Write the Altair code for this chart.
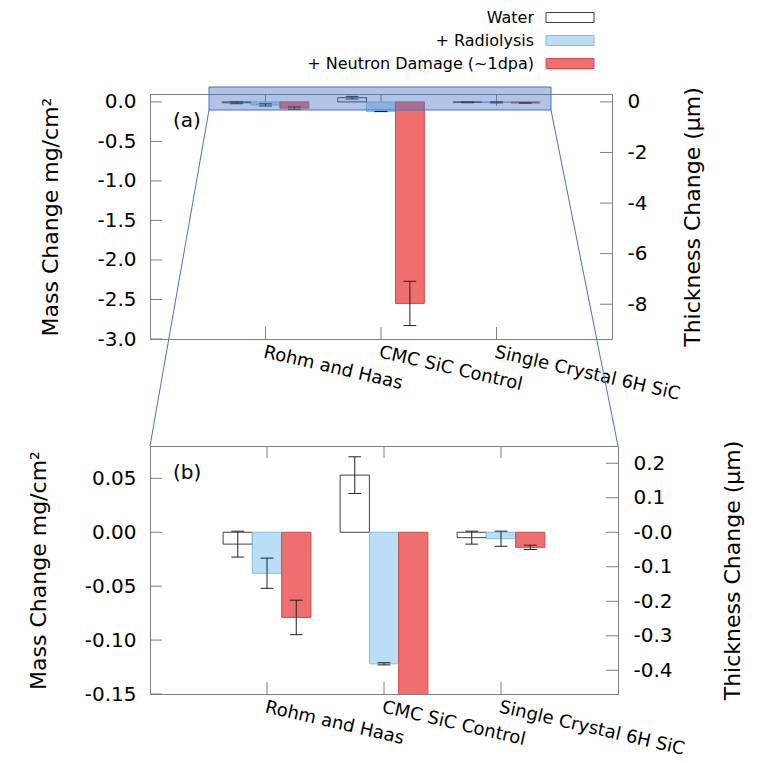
import json
import altair as alt
import pandas as pd

# ---------------- data ----------------
categories = ["Rohm and Haas", "CMC SiC Control", "Single Crystal 6H SiC"]
series = ["Water", "+ Radiolysis", "+ Neutron Damage (~1dpa)"]
water = [-0.011, 0.053, -0.005]
water_err = [0.012, 0.017, 0.006]
radiolysis = [-0.038, -0.122, -0.006]
radiolysis_err = [0.014, 0.001, 0.007]
neutron = [-0.079, -2.55, -0.014]
neutron_err = [0.016, 0.28, 0.002]
um_per_mg_cm2 = 3.125  # thickness (um) per mass change (mg/cm^2)

mass_ticks_a = [0.0, -0.5, -1.0, -1.5, -2.0, -2.5, -3.0]
thick_ticks_a = [0, -2, -4, -6, -8]
mass_ticks_b = [0.05, 0.0, -0.05, -0.10, -0.15]
thick_ticks_b = [0.2, 0.1, 0.0, -0.1, -0.2, -0.3, -0.4]
mass_domain_a = [-3.0, 0.1]
mass_domain_b = [-0.15, 0.08]

# ---------------- style ----------------
FONT = "DejaVu Sans"
FRAME = "#808080"
fills = ["#ffffff", "#b9def5", "#ef6e6e"]
strokes = ["#404040", "#7fbfea", "#d84848"]
ZOOM = "#4472c4"
BAR_W = 0.25
CAP_HALF = 0.055
TICK = 12

rows = []
vals = [water, radiolysis, neutron]
errs = [water_err, radiolysis_err, neutron_err]
for ci, cat in enumerate(categories):
    for si, s in enumerate(series):
        rows.append({"category": cat, "ci": ci, "series": s, "si": si,
                     "v": vals[si][ci], "e": errs[si][ci]})
bars_df = pd.DataFrame(rows)

fill_enc = alt.Fill("series:N", scale=alt.Scale(domain=series, range=fills), legend=None)
stroke_enc = alt.Stroke("series:N", scale=alt.Scale(domain=series, range=strokes), legend=None)

base = alt.Chart(bars_df).transform_calculate(
    xc=f"datum.ci + (datum.si - 1) * {BAR_W}"
).transform_calculate(
    x0=f"datum.xc - {BAR_W / 2}", x1=f"datum.xc + {BAR_W / 2}",
    lo="datum.v - datum.e", hi="datum.v + datum.e",
    cl=f"datum.xc - {CAP_HALF}", cr=f"datum.xc + {CAP_HALF}",
)

cat_expr = json.dumps(categories) + "[datum.value]"


def minus_fix(fmt):
    return f"replace(format(datum.value, '{fmt}'), '\u2212', '-')"


def panel(mass_dom, mass_ticks, mass_fmt, thick_ticks, thick_expr, width, height, tag,
          extra, right_title_pad):
    xs = alt.Scale(domain=[-1, 3], nice=False, zero=False)
    ys = alt.Scale(domain=mass_dom, nice=False, zero=False)
    ts = alt.Scale(domain=[mass_dom[0] * um_per_mg_cm2, mass_dom[1] * um_per_mg_cm2],
                   nice=False, zero=False)
    # identical axis objects in every layer so that they merge into one axis
    y_axis = alt.Axis(values=mass_ticks, labelExpr=minus_fix(mass_fmt),
                      title="Mass Change mg/cm\u00b2", labelPadding=14, titlePadding=34)
    x_axis = alt.Axis(values=list(range(len(categories))), labelExpr=cat_expr, title=None,
                      labelAngle=13, labelAlign="left", labelBaseline="top", labelPadding=4,
                      labelOverlap=False, labelLimit=400, labelFontSize=18)

    lticks = alt.Chart(pd.DataFrame({"t": mass_ticks})).mark_rule(color=FRAME).encode(
        y=alt.Y("t:Q", scale=ys, axis=y_axis),
        x=alt.value(0), x2=alt.value(TICK),
    )
    xdf = pd.DataFrame({"p": list(range(len(categories)))})
    xticks_b = alt.Chart(xdf).mark_rule(color=FRAME).encode(
        x=alt.X("p:Q", scale=xs, axis=x_axis),
        y=alt.value(height), y2=alt.value(height - TICK),
    )
    xticks_t = alt.Chart(xdf).mark_rule(color=FRAME).encode(
        x=alt.X("p:Q", scale=xs, axis=x_axis),
        y=alt.value(0), y2=alt.value(TICK),
    )
    bars = base.mark_rect(strokeWidth=1, clip=True).encode(
        x=alt.X("x0:Q", scale=xs, axis=x_axis), x2="x1:Q",
        y=alt.Y("v:Q", scale=ys, axis=y_axis), y2=alt.datum(0),
        fill=fill_enc, stroke=stroke_enc,
    )
    err = base.mark_rule(color="#222222", strokeWidth=1, clip=True).encode(
        x=alt.X("xc:Q", scale=xs, axis=x_axis),
        y=alt.Y("lo:Q", scale=ys, axis=y_axis), y2="hi:Q",
    )
    cap_lo = base.mark_rule(color="#222222", strokeWidth=1, clip=True).encode(
        x=alt.X("cl:Q", scale=xs, axis=x_axis), x2="cr:Q",
        y=alt.Y("lo:Q", scale=ys, axis=y_axis),
    )
    cap_hi = base.mark_rule(color="#222222", strokeWidth=1, clip=True).encode(
        x=alt.X("cl:Q", scale=xs, axis=x_axis), x2="cr:Q",
        y=alt.Y("hi:Q", scale=ys, axis=y_axis),
    )
    tag_t = alt.Chart(pd.DataFrame({"tag": [tag]})).mark_text(
        align="left", baseline="middle", fontSize=20, font=FONT, color="black"
    ).encode(text="tag:N", x=alt.value(23), y=alt.value(27))

    rticks = alt.Chart(pd.DataFrame({"t": thick_ticks})).mark_rule(color=FRAME).encode(
        y=alt.Y("t:Q", scale=ts, axis=alt.Axis(
            orient="right", values=thick_ticks, labelExpr=thick_expr,
            title="Thickness Change (\u00b5m)", titleAngle=270, titleBaseline="top",
            labelPadding=15, titlePadding=right_title_pad)),
        x=alt.value(width), x2=alt.value(width - TICK),
    )
    left = alt.layer(lticks, xticks_b, xticks_t, bars, err, cap_lo, cap_hi, tag_t, *extra)
    right = alt.layer(rticks)
    return alt.layer(left, right).resolve_scale(y="independent").properties(
        width=width, height=height)


one = pd.DataFrame({"z": [0]})
zoom_rect = alt.Chart(one).mark_rect(
    fill=ZOOM, fillOpacity=0.42, stroke=ZOOM, strokeWidth=1
).encode(x=alt.value(59), x2=alt.value(401), y=alt.value(-7), y2=alt.value(16))

conn_l = alt.Chart(one).mark_rule(color=ZOOM, strokeWidth=1).encode(
    x=alt.value(0), y=alt.value(0), x2=alt.value(59), y2=alt.value(-336))
conn_r = alt.Chart(one).mark_rule(color=ZOOM, strokeWidth=1).encode(
    x=alt.value(468), y=alt.value(0), x2=alt.value(401), y2=alt.value(-336))

pa = panel(mass_domain_a, mass_ticks_a, ".1f", thick_ticks_a, minus_fix("d"),
           462, 245, "(a)", [zoom_rect], 36)
thick_b_expr = "datum.value == 0 ? '-0.0' : " + minus_fix(".1f")
pb = panel(mass_domain_b, mass_ticks_b, ".2f", thick_ticks_b, thick_b_expr,
           468, 248, "(b)", [conn_l, conn_r], 50)

# custom legend (label left, swatch right)
leg_df = pd.DataFrame({"series": series})
ly = alt.Y("series:N", sort=series,
           scale=alt.Scale(domain=series, paddingInner=0, paddingOuter=0), axis=None)
leg_sw = alt.Chart(leg_df).mark_bar(size=10, strokeWidth=1).encode(
    y=ly, x=alt.value(396), x2=alt.value(444), fill=fill_enc, stroke=stroke_enc)
leg_tx = alt.Chart(leg_df).mark_text(
    align="right", baseline="middle", fontSize=16, font=FONT, color="black"
).encode(y=ly, x=alt.value(384), text="series:N")
legend = alt.layer(leg_sw, leg_tx).properties(
    width=462, height=69, view=alt.ViewBackground(stroke="transparent"))

chart = alt.vconcat(
    legend,
    alt.vconcat(pa, pb, spacing=107, bounds="flush"),
    spacing=19, bounds="flush",
).properties(
    padding={"left": 26, "top": 5, "right": 5, "bottom": 0}
).configure_view(
    stroke=FRAME, strokeWidth=1
).configure_axis(
    labelFont=FONT, titleFont=FONT, labelFontSize=20, titleFontSize=22,
    titleFontWeight="normal", labelColor="black", titleColor="black",
    domain=False, ticks=False, tickSize=0, grid=False,
)

chart.save("out.html", embed_options={"renderer": "svg", "actions": False})
